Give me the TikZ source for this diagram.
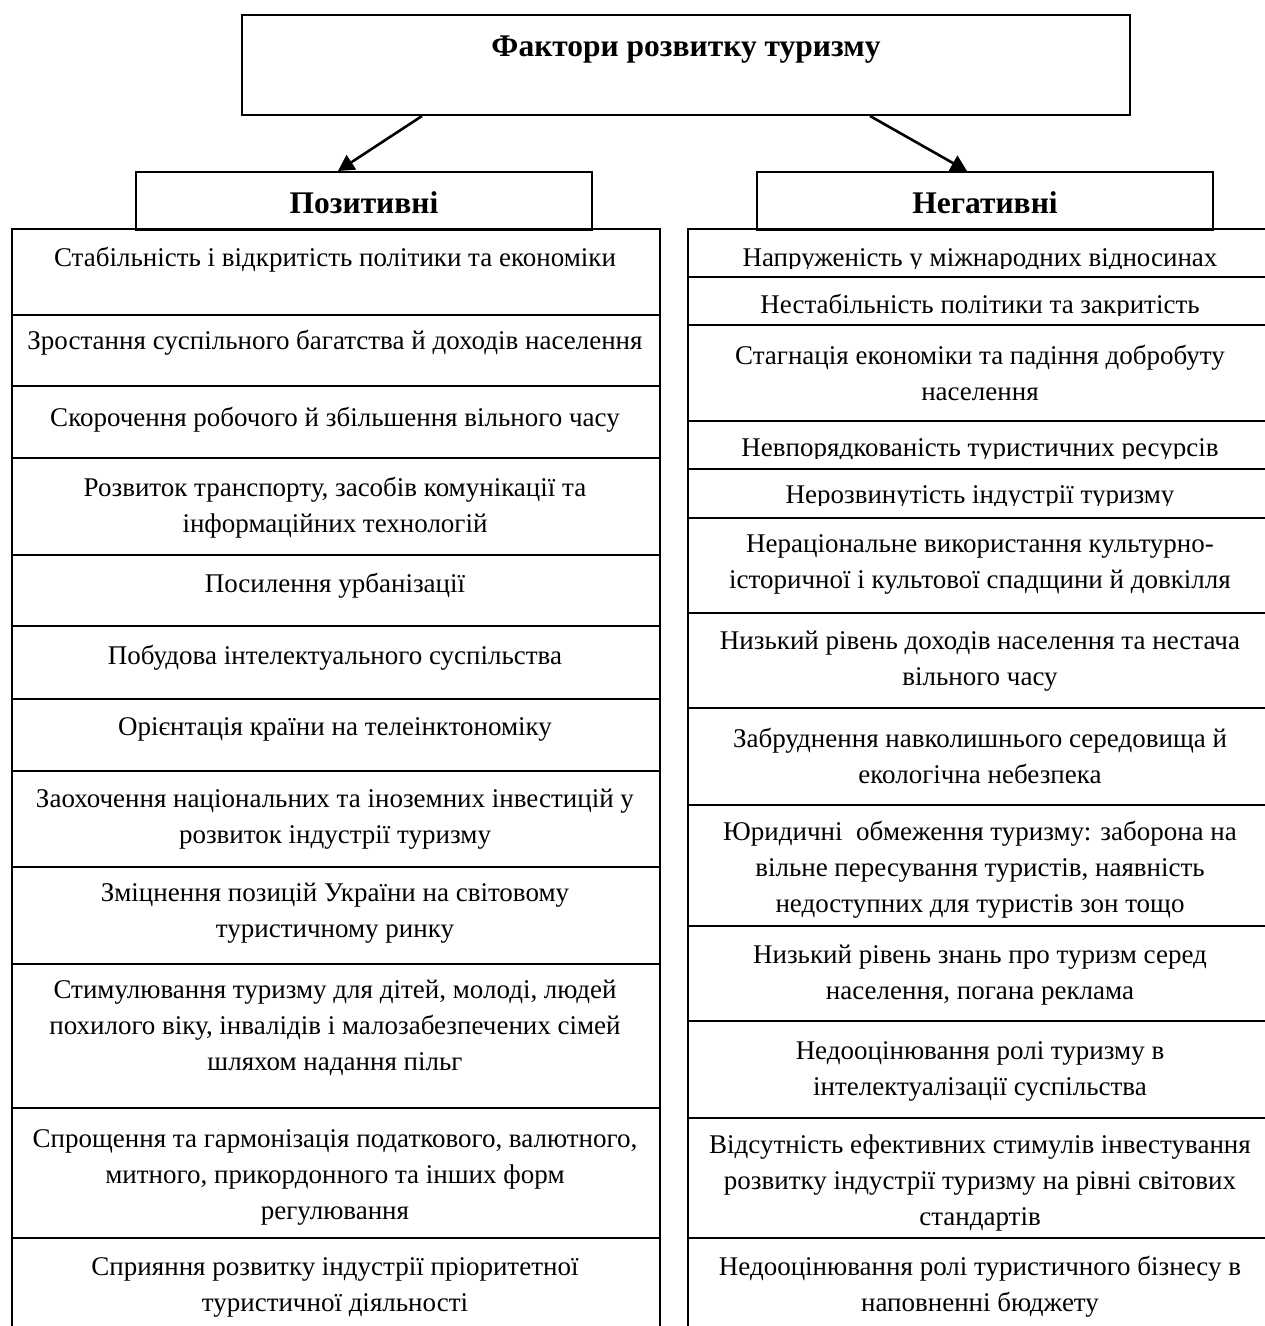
\documentclass[tikz,border=0pt]{standalone}
\usepackage{fontspec}
\setmainfont{Liberation Serif}
\usetikzlibrary{arrows.meta}
\begin{document}
\begin{tikzpicture}[x=1pt,y=-1pt,
  rule/.style={line width=2pt},
  headbox/.style={draw, line width=2pt, inner sep=0pt,
    font=\fontsize{31.5}{38}\selectfont\bfseries},
  cell/.style={anchor=north, inner sep=0pt, align=center, yshift=-3pt,
    font=\fontsize{27}{36}\selectfont},
  arr/.style={line width=2.6pt, -{Triangle[length=16pt,width=17pt]}}
]
\useasboundingbox (0,0) rectangle (1265,1326);

% heading boxes
\node[headbox, anchor=north west, minimum width=888pt,
  text height=41pt, text depth=59pt] (top) at (241,14) {Фактори розвитку туризму};
\node[headbox, anchor=north west, minimum width=456pt,
  text height=41pt, text depth=17pt] (pos) at (135,171) {Позитивні};
\node[headbox, anchor=north west, minimum width=456pt,
  text height=41pt, text depth=17pt] (neg) at (756,171) {Негативні};

\draw[arr] ([xshift=-264pt]top.south) -- ([xshift=-26pt]pos.north);
\draw[arr] ([xshift=184pt]top.south) -- ([xshift=-18pt]neg.north);

% left table
\draw[rule] (12,1326) -- (12,229) -- (660,229) -- (660,1326);
\foreach \y in {315,386,458,555,626,699,771,867,964,1108,1238}
  \draw[rule] (12,\y) -- (660,\y);

% right table
\draw[rule] (688,1326) -- (688,229) -- (1265,229);
\foreach \y in {277,325,421,469,518,613,708,805,926,1021,1118,1238}
  \draw[rule] (688,\y) -- (1265,\y);

% positive factors
\node[cell] (p1) at (335,238) {\strut Стабільність і відкритість політики та економіки};
\node[cell] (p2) at (335,321) {\strut Зростання суспільного багатства й доходів населення};
\node[cell] (p3) at (335,398) {\strut Скорочення робочого й збільшення вільного часу};
\node[cell] (p4) at (335,468) {\strut Розвиток транспорту, засобів комунікації та\\інформаційних технологій};
\node[cell] (p5) at (335,564) {\strut Посилення урбанізації};
\node[cell] (p6) at (335,636) {\strut Побудова інтелектуального суспільства};
\node[cell] (p7) at (335,707) {\strut Орієнтація країни на телеінктономіку};
\node[cell] (p8) at (335,779) {\strut Заохочення національних та іноземних інвестицій у\\розвиток індустрії туризму};
\node[cell] (p9) at (335,873) {\strut Зміцнення позицій України на світовому\\туристичному ринку};
\node[cell] (p10) at (335,970) {\strut Стимулювання туризму для дітей, молоді, людей\\похилого віку, інвалідів і малозабезпечених сімей\\шляхом надання пільг};
\node[cell] (p11) at (335,1119) {\strut Спрощення та гармонізація податкового, валютного,\\митного, прикордонного та інших форм\\регулювання};
\node[cell] (p12) at (335,1247) {\strut Сприяння розвитку індустрії пріоритетної\\туристичної діяльності};

% negative factors (single-line rows are cut at their lower edge)
\begin{scope}
  \clip (688,229) rectangle (1265,268);
  \node[cell] (n1) at (980,238) {\strut Напруженість у міжнародних відносинах};
\end{scope}
\begin{scope}
  \clip (688,277) rectangle (1265,315);
  \node[cell] (n2) at (980,285) {\strut Нестабільність політики та закритість};
\end{scope}
\node[cell] (n3) at (980,336) {\strut Стагнація економіки та падіння добробуту\\населення};
\begin{scope}
  \clip (688,421) rectangle (1265,458);
  \node[cell] (n4) at (980,428) {\strut Невпорядкованість туристичних ресурсів};
\end{scope}
\begin{scope}
  \clip (688,469) rectangle (1265,505);
  \node[cell] (n5) at (980,475) {\strut Нерозвинутість індустрії туризму};
\end{scope}
\node[cell] (n6) at (980,524) {\strut Нераціональне використання культурно-\\історичної і культової спадщини й довкілля};
\node[cell] (n7) at (980,621) {\strut Низький рівень доходів населення та нестача\\вільного часу};
\node[cell] (n8) at (980,719) {\strut Забруднення навколишнього середовища й\\екологічна небезпека};
\node[cell] (n9) at (980,812) {\strut Юридичні\ \ обмеження туризму: заборона на\\вільне пересування туристів, наявність\\недоступних для туристів зон тощо};
\node[cell] (n10) at (980,935) {\strut Низький рівень знань про туризм серед\\населення, погана реклама};
\node[cell] (n11) at (980,1031) {\strut Недооцінювання ролі туризму в\\інтелектуалізації суспільства};
\node[cell] (n12) at (980,1125) {\strut Відсутність ефективних стимулів інвестування\\розвитку індустрії туризму на рівні світових\\стандартів};
\node[cell] (n13) at (980,1247) {\strut Недооцінювання ролі туристичного бізнесу в\\наповненні бюджету};
\end{tikzpicture}
\end{document}
